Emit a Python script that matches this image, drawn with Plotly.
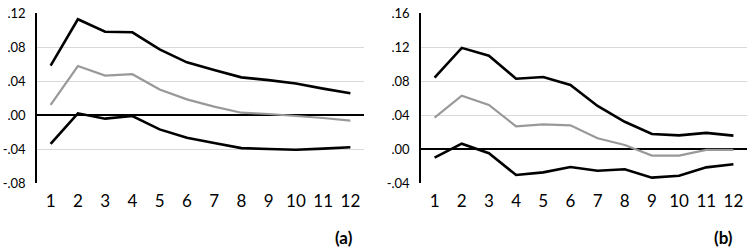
import plotly.graph_objects as go

periods = list(range(1, 13))

a_upper = [0.058, 0.1126, 0.098, 0.0973, 0.0773, 0.062, 0.053, 0.0443, 0.041, 0.037, 0.031, 0.0255]
a_mid = [0.0118, 0.0576, 0.0463, 0.048, 0.030, 0.0184, 0.0098, 0.0027, 0.0012, -0.001, -0.0035, -0.0067]
a_lower = [-0.034, 0.002, -0.0043, -0.0012, -0.0169, -0.0267, -0.033, -0.039, -0.040, -0.0408, -0.0396, -0.038]

b_upper = [0.0839, 0.119, 0.1098, 0.0827, 0.0847, 0.0753, 0.0506, 0.032, 0.0176, 0.016, 0.019, 0.0157]
b_mid = [0.0369, 0.0627, 0.0518, 0.0267, 0.029, 0.0278, 0.0126, 0.0047, -0.0078, -0.0078, -0.001, -0.001]
b_lower = [-0.0102, 0.0063, -0.005, -0.0306, -0.0275, -0.0212, -0.0255, -0.0239, -0.0337, -0.0314, -0.0216, -0.018]

a_ticks = [-0.08, -0.04, 0.0, 0.04, 0.08, 0.12]
a_ticktext = ["-.08", "-.04", ".00", ".04", ".08", ".12"]
b_ticks = [-0.04, 0.0, 0.04, 0.08, 0.12, 0.16]
b_ticktext = ["-.04", ".00", ".04", ".08", ".12", ".16"]
x_ticktext = [str(p) for p in periods]

W, H = 750, 251
FONT = "Lato"

def px(x):
    return x / W

def py(y):
    return (H - y) / H

fig = go.Figure()

def add_panel(xa, ya, up, mid, lo):
    fig.add_trace(go.Scatter(x=periods, y=mid, mode="lines", line=dict(color="#999999", width=2.2),
                             xaxis=xa, yaxis=ya, showlegend=False, cliponaxis=False, hoverinfo="skip"))
    fig.add_trace(go.Scatter(x=periods, y=up, mode="lines", line=dict(color="#000000", width=2.6),
                             xaxis=xa, yaxis=ya, showlegend=False, cliponaxis=False, hoverinfo="skip"))
    fig.add_trace(go.Scatter(x=periods, y=lo, mode="lines", line=dict(color="#000000", width=2.6),
                             xaxis=xa, yaxis=ya, showlegend=False, cliponaxis=False, hoverinfo="skip"))

add_panel("x", "y", a_upper, a_mid, a_lower)
add_panel("x2", "y2", b_upper, b_mid, b_lower)

ydom = [py(183), py(13)]

xcommon = dict(range=[0.5, 12.5], tickvals=periods, ticktext=x_ticktext, showgrid=False,
               zeroline=False, showline=False, ticks="", automargin=False, ticklabelstandoff=6,
               ticklabeloverflow="allow",
               tickfont=dict(size=17, color="#000", family=FONT))
ycommon = dict(showgrid=True, gridcolor="#d9d9d9", gridwidth=1.3, zeroline=True, zerolinecolor="#000",
               zerolinewidth=1.5, showline=True, linecolor="#000", linewidth=1.5, ticks="",
               automargin=False, ticklabelstandoff=7, ticklabeloverflow="allow",
               tickfont=dict(size=13, color="#000", family=FONT))

fig.update_layout(
    width=W, height=H, margin=dict(l=0, r=0, t=0, b=0),
    plot_bgcolor="white", paper_bgcolor="white",
    xaxis=dict(domain=[px(37), px(364)], anchor="y", **xcommon),
    yaxis=dict(domain=ydom, anchor="x", range=[-0.08, 0.12], tickvals=a_ticks, ticktext=a_ticktext, **ycommon),
    xaxis2=dict(domain=[px(421), px(747)], anchor="y2", **xcommon),
    yaxis2=dict(domain=ydom, anchor="x2", range=[-0.04, 0.16], tickvals=b_ticks, ticktext=b_ticktext, **ycommon),
    annotations=[
        dict(text="<b>(a)</b>", x=px(355), y=py(237), xref="paper", yref="paper",
             showarrow=False, font=dict(size=17, color="#000", family=FONT), xanchor="right", yanchor="middle"),
        dict(text="<b>(b)</b>", x=px(735), y=py(237), xref="paper", yref="paper",
             showarrow=False, font=dict(size=17, color="#000", family=FONT), xanchor="right", yanchor="middle"),
    ],
)

# remove the browser's default 8px body margin so the 750x251 figure fills the window
fig.write_html("out.html", config={"displayModeBar": False},
               post_script="document.body.style.margin='0';document.body.style.padding='0';")
